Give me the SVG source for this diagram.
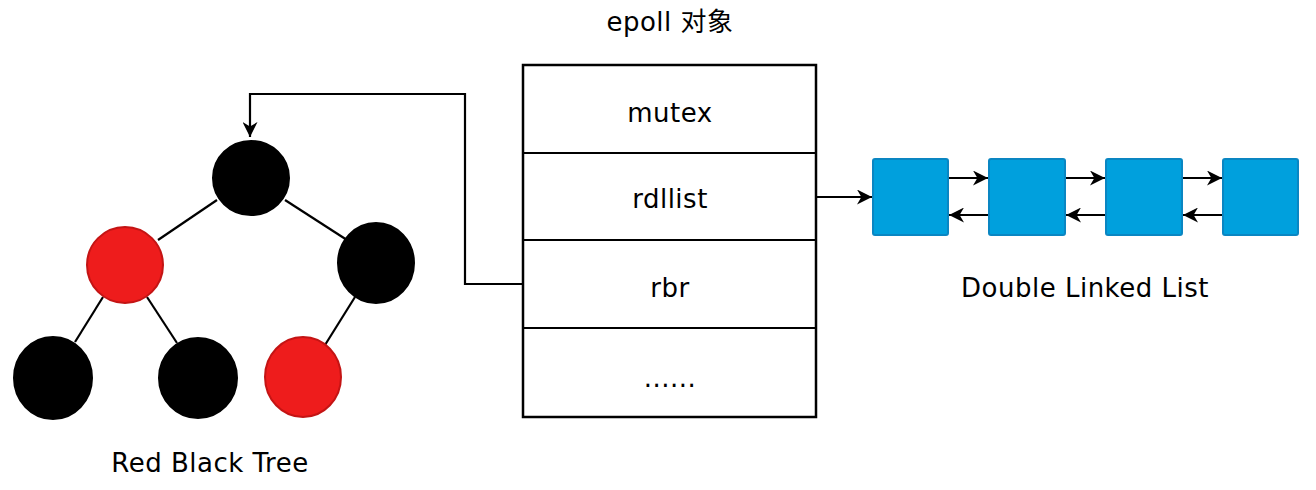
<svg xmlns="http://www.w3.org/2000/svg" width="1316" height="490" viewBox="0 0 1316 490">
<defs>
<style>
.t{font-family:"Comic Sans MS","DejaVu Sans","Noto Sans CJK SC",sans-serif;font-size:26px;letter-spacing:0.5px;fill:#000;text-anchor:middle}
.box{fill:#fff;stroke:#000;stroke-width:2.5}
.ln{fill:none;stroke:#000;stroke-width:2.2}
.blk{fill:#000;stroke:#000;stroke-width:2}
.red{fill:#ee1c1c;stroke:#c41414;stroke-width:2}
.sq{fill:#00a0dd;stroke:#0a86c2;stroke-width:2}
</style>
<marker id="ah2" viewBox="0 0 12 12" refX="12" refY="6" markerWidth="15" markerHeight="15" markerUnits="userSpaceOnUse" orient="auto">
<path d="M0,0 L12,6 L0,12 L3.5,6 Z" fill="#000"/>
</marker>
</defs>
<rect width="1316" height="490" fill="#fff"/>
<g id="connectors">
<path class="ln" d="M523,284 H465 V94 H250 V137" marker-end="url(#ah2)"/>
<path class="ln" d="M816,197 H872" marker-end="url(#ah2)"/>
<path class="ln" d="M948,178 H988" marker-end="url(#ah2)"/>
<path class="ln" d="M989,215 H949" marker-end="url(#ah2)"/>
<path class="ln" d="M1065,178 H1105" marker-end="url(#ah2)"/>
<path class="ln" d="M1106,215 H1066" marker-end="url(#ah2)"/>
<path class="ln" d="M1182,178 H1222" marker-end="url(#ah2)"/>
<path class="ln" d="M1223,215 H1183" marker-end="url(#ah2)"/>
<line class="ln" x1="217" y1="200" x2="158" y2="240"/>
<line class="ln" x1="285" y1="200" x2="347" y2="240"/>
<line class="ln" x1="103" y1="297" x2="75" y2="342"/>
<line class="ln" x1="147" y1="297" x2="177" y2="343"/>
<line class="ln" x1="355" y1="297" x2="325" y2="345"/>
</g>
<g id="epoll">
<text class="t" x="670" y="31">epoll 对象</text>
<rect class="box" x="523" y="65" width="293" height="352"/>
<line class="ln" x1="523" y1="153" x2="816" y2="153"/>
<line class="ln" x1="523" y1="240" x2="816" y2="240"/>
<line class="ln" x1="523" y1="328" x2="816" y2="328"/>
<text class="t" x="670" y="122">mutex</text>
<text class="t" x="670" y="208">rdllist</text>
<text class="t" x="670" y="297">rbr</text>
<text class="t" x="670" y="387">......</text>
</g>
<g id="tree">
<ellipse class="blk" cx="251" cy="178" rx="38" ry="37"/>
<circle class="red" cx="125" cy="265" r="38"/>
<ellipse class="blk" cx="376" cy="263" rx="38" ry="40"/>
<ellipse class="blk" cx="53" cy="378" rx="39" ry="41"/>
<ellipse class="blk" cx="198" cy="378" rx="39" ry="40"/>
<ellipse class="red" cx="303" cy="377" rx="38" ry="40"/>
<text class="t" x="210" y="472">Red Black Tree</text>
</g>
<g id="list">
<rect class="sq" x="873" y="159" width="75" height="76" rx="2"/>
<rect class="sq" x="989" y="159" width="76" height="76" rx="2"/>
<rect class="sq" x="1106" y="159" width="76" height="76" rx="2"/>
<rect class="sq" x="1223" y="159" width="75" height="76" rx="2"/>
<text class="t" x="1085" y="297">Double Linked List</text>
</g>
</svg>
